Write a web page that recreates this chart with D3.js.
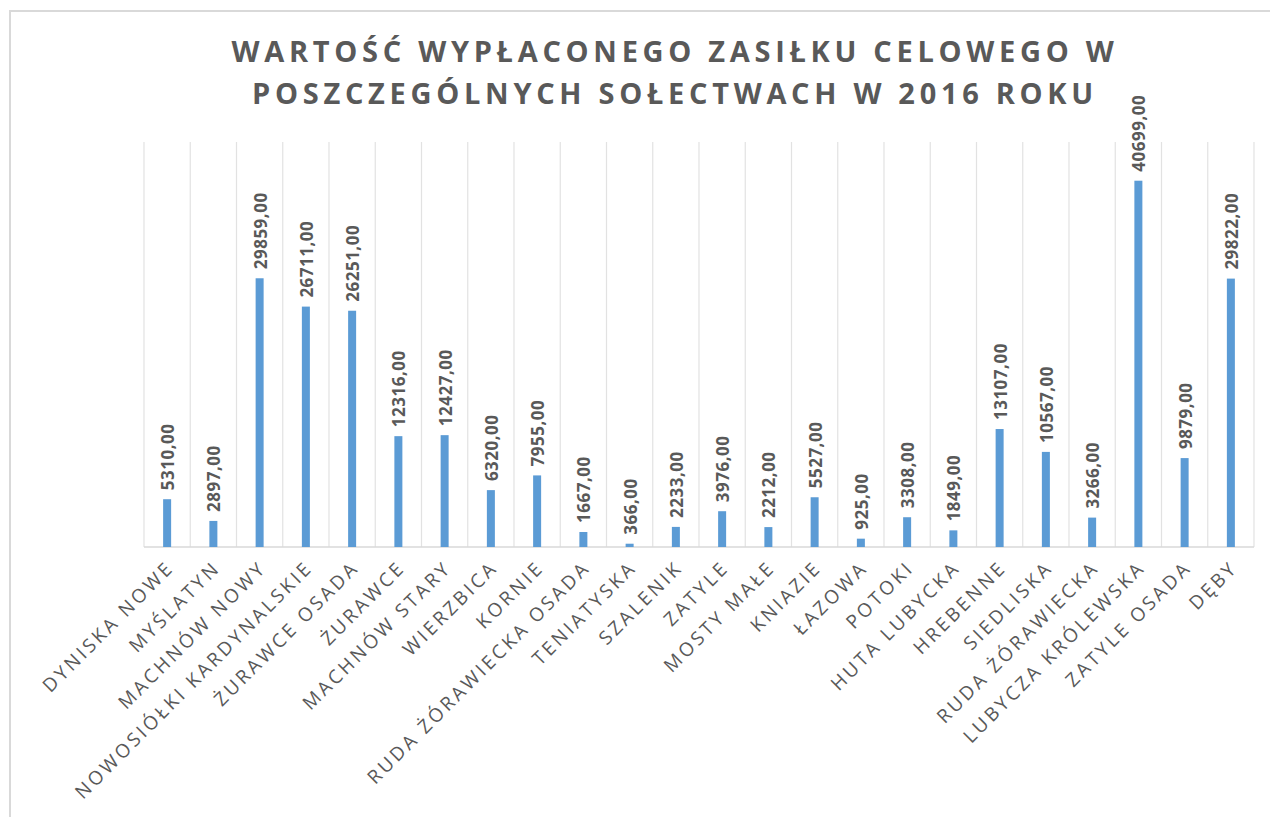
<!DOCTYPE html>
<html>
<head>
<meta charset="utf-8">
<script src="https://cdn.jsdelivr.net/npm/d3@7"></script>
<style>
  body { margin: 0; background: #fff; }
  svg { display: block; }
</style>
</head>
<body>
<div id="chart"></div>
<script>
// Data
const villages = [
  "DYNISKA NOWE", "MYŚLATYN", "MACHNÓW NOWY", "NOWOSIÓŁKI KARDYNALSKIE",
  "ŻURAWCE OSADA", "ŻURAWCE", "MACHNÓW STARY", "WIERZBICA", "KORNIE",
  "RUDA ŻÓRAWIECKA OSADA", "TENIATYSKA", "SZALENIK", "ZATYLE", "MOSTY MAŁE",
  "KNIAZIE", "ŁAZOWA", "POTOKI", "HUTA LUBYCKA", "HREBENNE", "SIEDLISKA",
  "RUDA ŻÓRAWIECKA", "LUBYCZA KRÓLEWSKA", "ZATYLE OSADA", "DĘBY"
];
const amounts = [
  5310, 2897, 29859, 26711, 26251, 12316, 12427, 6320, 7955, 1667, 366, 2233,
  3976, 2212, 5527, 925, 3308, 1849, 13107, 10567, 3266, 40699, 9879, 29822
];
const titleLines = [
  "WARTOŚĆ WYPŁACONEGO ZASIŁKU CELOWEGO W",
  "POSZCZEGÓLNYCH SOŁECTWACH W 2016 ROKU"
];
const yMax = 45000;

const width = 1270;
const height = 817;
const plotLeft = 144, plotRight = 1254, plotTop = 142, plotBottom = 547;

const svg = d3.select("#chart")
  .append("svg")
  .attr("width", width)
  .attr("height", height);

// chart border (only left/top visible)
svg.append("rect")
  .attr("x", 10).attr("y", 11)
  .attr("width", 1300).attr("height", 900)
  .attr("fill", "none")
  .attr("stroke", "#d9d9d9")
  .attr("stroke-width", 2);

const data = villages.map((v, i) => ({ name: v, value: amounts[i] }));

const x = d3.scaleBand()
  .domain(villages)
  .range([plotLeft, plotRight])
  .padding(0);

const y = d3.scaleLinear()
  .domain([0, yMax])
  .range([plotBottom, plotTop]);

// vertical gridlines at category boundaries
const bounds = villages.map(v => x(v)).concat([plotRight]);
svg.append("g")
  .selectAll("line")
  .data(bounds)
  .enter()
  .append("line")
  .attr("x1", d => d).attr("x2", d => d)
  .attr("y1", plotTop).attr("y2", plotBottom)
  .attr("stroke", "#e2e2e2")
  .attr("stroke-width", 1.2);

// x axis line
svg.append("line")
  .attr("x1", plotLeft).attr("x2", plotRight)
  .attr("y1", plotBottom).attr("y2", plotBottom)
  .attr("stroke", "#d9d9d9")
  .attr("stroke-width", 1.5);

// bars
const barW = 8;
svg.append("g")
  .selectAll("rect")
  .data(data)
  .enter()
  .append("rect")
  .attr("x", d => x(d.name) + x.bandwidth() / 2 - barW / 2)
  .attr("y", d => y(d.value))
  .attr("width", barW)
  .attr("height", d => plotBottom - y(d.value))
  .attr("fill", "#5b9bd5");

// value labels
const fmt = v => v.toFixed(2).replace(".", ",");
svg.append("g")
  .selectAll("text")
  .data(data)
  .enter()
  .append("text")
  .attr("transform", d => `translate(${x(d.name) + x.bandwidth() / 2 + 7},${y(d.value) - 9}) rotate(-90)`)
  .attr("font-family", "'Open Sans', sans-serif")
  .attr("font-weight", "bold")
  .attr("font-size", "17px")
  .attr("letter-spacing", "0.5px")
  .attr("fill", "#595959")
  .text(d => fmt(d.value));

// category labels
svg.append("g")
  .selectAll("text")
  .data(villages)
  .enter()
  .append("text")
  .attr("transform", d => `translate(${x(d) + x.bandwidth() / 2 + 8},${plotBottom + 22}) rotate(-45)`)
  .attr("text-anchor", "end")
  .attr("font-family", "'Open Sans', sans-serif")
  .attr("font-size", "19px")
  .attr("letter-spacing", "3px")
  .attr("fill", "#595959")
  .text(d => d);

// title
svg.append("g")
  .selectAll("text")
  .data(titleLines)
  .enter()
  .append("text")
  .attr("x", 675)
  .attr("y", (d, i) => 62 + i * 42)
  .attr("text-anchor", "middle")
  .attr("font-family", "'Open Sans', sans-serif")
  .attr("font-weight", "bold")
  .attr("font-size", "29px")
  .attr("letter-spacing", "4.7px")
  .attr("fill", "#595959")
  .text(d => d);
</script>
</body>
</html>
